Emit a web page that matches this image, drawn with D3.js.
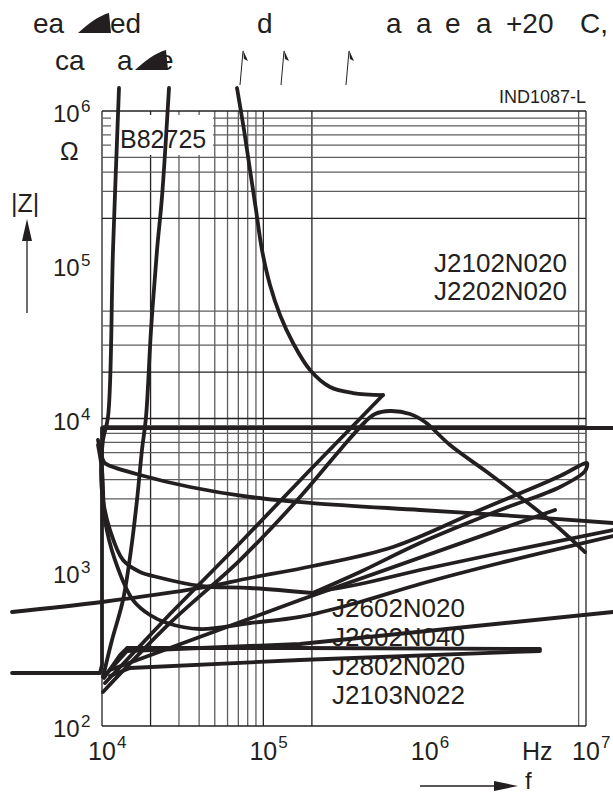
<!DOCTYPE html>
<html>
<head>
<meta charset="utf-8">
<script src="https://cdn.jsdelivr.net/npm/d3@7"></script>
<style>
  body { margin: 0; background: #fff; }
  svg { display: block; font-family: "Liberation Sans", Arial, Helvetica, sans-serif; }
</style>
</head>
<body>
<svg id="chart" width="613" height="794"></svg>
<script>
// Grid positions (Hz / Ohm)
const xGrid = [1e4, 2e4, 3e4, 4e4, 5e4, 6e4, 7e4, 8e4, 9e4, 1e5, 2e5, 9e6, 1e7];
const yGrid = [1e2, 2e3, 3e3, 4e3, 5e3, 6e3, 7e3, 8e3, 9e3, 1e4, 2e4, 3e4, 4e4, 5e4,
  2e5, 3e5, 4e5, 5e5, 6e5, 7e5, 8e5, 9e5, 1e6];
const xTicks = [1e4, 1e5, 1e6, 1e7];
const yTicks = [1e2, 1e3, 1e4, 1e5, 1e6];

// Curves: [f in Hz, |Z| in Ohm]
const curveA = [[12746, 1.411e6], [11700, 1.247e5], [10894, 1.023e4], [10144, 7248], [9858, 4624],
  [10144, 2951], [11210, 1883], [13496, 1201], [17200, 1004], [21930, 931], [40500, 814],
  [82690, 790], [203200, 733]];
const curveE = [[10144, 208.3], [11535, 362.5], [13496, 660], [15125, 1395], [16480, 2951],
  [17690, 6240], [18740, 1.023e4], [20130, 3.764e4], [21930, 1.247e5], [23540, 2.759e5],
  [26020, 1.411e6]];
const curveC = [[68680, 1.411e6], [75910, 7.522e5], [82690, 4.133e5], [90070, 2.271e5],
  [98130, 1.247e5], [110000, 7.385e4], [126900, 4.712e4], [152800, 3.098e4], [194700, 2.067e4],
  [259000, 1.603e4], [359800, 1.465e4], [552000, 1.421e4]];
const curveCBack = [[552000, 1.421e4], [194700, 4624], [71680, 1550], [26400, 535], [10438, 190.4]];
const curveD = [[10144, 166.4], [26400, 467.7], [71680, 1201], [168800, 3086], [298700, 6240],
  [426800, 9489], [492200, 1.07e4], [610000, 1.119e4], [811100, 1.07e4], [1.005e6, 9489],
  [1.436e6, 6724], [2.434e6, 4487], [3.899e6, 3086], [6.245e6, 2091], [9.86e6, 1354]];
const curveB = [[9445, 7248], [10290, 5214], [10894, 4985], [17200, 4291], [35120, 3585],
  [82690, 3086], [200300, 2820], [935600, 2541], [2.931e6, 2357], [1.4707e7, 2091]];
const curveL = [[2770, 221.2], [9719, 221.2], [1e4, 249.3], [1e4, 8675], [1.4707e7, 8675]];
const curveLoop = [[2770, 551.4], [1e4, 640.5], [40500, 790], [82690, 917.6], [203200, 1098],
  [636700, 1460], [2.203e6, 2541], [6.903e6, 4227], [9.583e6, 5059], [1.0146e7, 5136],
  [9.86e6, 4555], [6.903e6, 3585], [2.931e6, 2541], [935600, 1550], [397400, 1004],
  [209100, 743.9]];
const curveX = [[209100, 743.9], [397400, 838.8], [935600, 1034], [2.931e6, 1334], [1.4707e7, 1883]];
const curveY = [[9445, 6724], [1e4, 4624], [10438, 2186], [12040, 1201], [15565, 659.9],
  [19840, 527.2], [25290, 467.7], [40500, 427.4], [82690, 467.7], [168800, 511.7],
  [397400, 640.5], [935600, 838.8], [2.931e6, 1149], [1.4707e7, 1721]];
const curveP4 = [[10290, 211.4], [11210, 231.3], [168800, 659.9], [6.428e6, 2541]];
const curveP6 = [[10290, 205.2], [12929, 289.5], [14289, 321.6], [168800, 321.6], [5.187e6, 316.8]];
const curveP7 = [[10894, 224.5], [14289, 307.5], [168800, 341.5], [1.4707e7, 551.4]];
const curveP8 = [[11210, 211.4], [14912, 238.4], [168800, 268.7], [5.187e6, 307.5]];

const smoothCurves = [curveA, curveE, curveC, curveD, curveB, curveLoop, curveX, curveY];
const straightCurves = [curveCBack, curveL, curveP4, curveP6, curveP7, curveP8];

const typeTop = ["J2102N020", "J2202N020"];
const typeBottom = ["J2602N020", "J2602N040", "J2802N020", "J2103N022"];

const ink = "#231f20";
const svg = d3.select("#chart");

const x = d3.scaleLog().domain([1e4, 1e7]).range([102, 586]);
const y = d3.scaleLog().domain([1e2, 1e6]).range([726, 111]);

const isMajor = (d) => /^[12]/.test(d.toExponential());

// grid
const grid = svg.append("g");
grid.selectAll("line.v").data(xGrid).join("line")
  .attr("x1", (d) => x(d)).attr("x2", (d) => x(d))
  .attr("y1", y(1e6)).attr("y2", y(1e2))
  .attr("stroke", (d) => (isMajor(d) ? "#222" : "#5e5e5e"))
  .attr("stroke-width", 1.3);
grid.selectAll("line.h").data(yGrid).join("line")
  .attr("x1", x(1e4)).attr("x2", x(1e7))
  .attr("y1", (d) => y(d)).attr("y2", (d) => y(d))
  .attr("stroke", (d) => (isMajor(d) ? "#222" : "#5e5e5e"))
  .attr("stroke-width", 1.3);

// type label box
svg.append("rect").attr("x", 111).attr("y", 115).attr("width", 102).attr("height", 40).attr("fill", "#fff");

function txt(px, py, s, size, anchor) {
  return svg.append("text").attr("x", px).attr("y", py)
    .attr("font-size", size).attr("fill", ink)
    .attr("text-anchor", anchor || "start").text(s);
}

txt(120, 148, "B82725", 25);
txt(586, 103, "IND1087-L", 18, "end");
typeTop.forEach((s, i) => txt(567, 272 + i * 28, s, 26, "end"));
typeBottom.forEach((s, i) => txt(332, 617 + i * 29, s, 26));

// y ticks
yTicks.forEach((v) => {
  txt(53, y(v) + 11, "10", 24);
  txt(81, y(v) + 1, String(Math.round(Math.log10(v))), 17);
});
// x ticks
xTicks.forEach((v) => {
  txt(x(v), 760, "10", 25, "middle");
  txt(x(v) + 15, 748, String(Math.round(Math.log10(v))), 17);
});
txt(522, 760, "Hz", 25);

// axis names
txt(60, 160, "\u03A9", 25);
txt(11, 212, "|Z|", 25);
svg.append("line").attr("x1", 27).attr("x2", 27).attr("y1", 313).attr("y2", 236)
  .attr("stroke", ink).attr("stroke-width", 1.3);
svg.append("path").attr("d", "M27,219 L22,241 L32,241 Z").attr("fill", ink);
svg.append("line").attr("x1", 420).attr("x2", 498).attr("y1", 786).attr("y2", 786)
  .attr("stroke", ink).attr("stroke-width", 1.3);
svg.append("path").attr("d", "M518,786 L494,781 L494,791 Z").attr("fill", ink);
txt(525, 789, "f", 24);

// broken heading
const head = [
  ["ea", 33, 33], ["ed", 110, 33], ["d", 257, 33], ["a", 386, 33], ["a", 416, 33],
  ["e", 445, 33], ["a", 476, 33], ["+20", 506, 33], ["C,", 580, 33],
  ["ca", 55, 70], ["a", 117, 70], ["e", 158, 70]
];
head.forEach(([s, px, py]) => txt(px, py, s, 28));
svg.append("path").attr("d", "M78,33 C88,24 98,16 109,13 L111,33 Z").attr("fill", ink);
svg.append("path").attr("d", "M135,70 C145,61 155,53 166,50 L168,70 Z").attr("fill", ink);
[[243, 240], [284, 281], [349, 346]].forEach(([tx, bx]) => {
  svg.append("line").attr("x1", bx).attr("y1", 85).attr("x2", tx).attr("y2", 51)
    .attr("stroke", ink).attr("stroke-width", 1);
  svg.append("path").attr("d", `M${tx},50 L${tx + 5},61 L${tx + 1},59 Z`).attr("fill", ink);
});

// curves
const smooth = d3.line().x((d) => x(d[0])).y((d) => y(d[1])).curve(d3.curveCatmullRom.alpha(0.5));
const straight = d3.line().x((d) => x(d[0])).y((d) => y(d[1]));
const curves = svg.append("g").attr("fill", "none").attr("stroke", ink)
  .attr("stroke-width", 3.8).attr("stroke-linejoin", "round").attr("stroke-linecap", "round");
smoothCurves.forEach((c) => curves.append("path").attr("d", smooth(c)));
straightCurves.forEach((c) => curves.append("path").attr("d", straight(c)));
</script>
</body>
</html>
